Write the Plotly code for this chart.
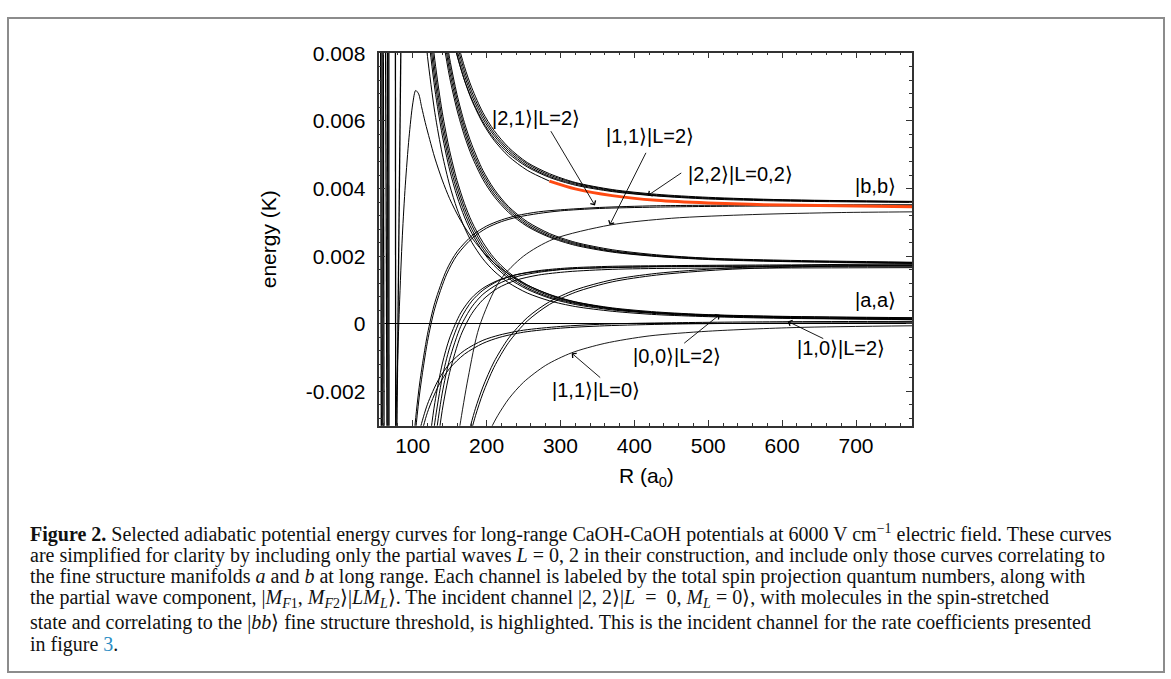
import plotly.graph_objects as go

W, H = 1171, 679

# ---------------- data (energies in mK) ----------------
# Repulsive curves correlating to |b,b>
R_REP_BB = [150, 160, 170, 180, 195, 210, 230, 255, 285, 320, 370, 430, 500, 600, 776]
E_REP_BB_1 = [9.45, 8.41, 7.61, 6.98, 6.25, 5.72, 5.21, 4.77, 4.44, 4.18, 3.97, 3.83, 3.74, 3.67, 3.62]
E_REP_BB_2 = [9.26, 8.26, 7.48, 6.86, 6.16, 5.64, 5.15, 4.73, 4.40, 4.16, 3.95, 3.81, 3.72, 3.66, 3.61]
E_REP_BB_3 = [9.07, 8.10, 7.35, 6.75, 6.07, 5.57, 5.09, 4.68, 4.36, 4.13, 3.93, 3.79, 3.71, 3.65, 3.60]
E_REP_BB_4 = [8.88, 7.94, 7.21, 6.64, 5.98, 5.49, 5.03, 4.64, 4.33, 4.10, 3.91, 3.78, 3.69, 3.63, 3.59]
E_INCIDENT = [8.93, 7.96, 7.21, 6.61, 5.93, 5.43, 4.95, 4.54, 4.22, 3.99, 3.79, 3.65, 3.57, 3.51, 3.46]
HIGHLIGHT_FROM_R = 285

# Repulsive curves correlating to |a,b>
R_REP_AB = [140, 150, 160, 170, 180, 195, 210, 230, 255, 285, 320, 370, 430, 500, 600, 776]
E_REP_AB_1 = [9.25, 7.85, 6.78, 5.95, 5.30, 4.54, 3.99, 3.46, 3.02, 2.67, 2.41, 2.19, 2.04, 1.94, 1.88, 1.82]
E_REP_AB_2 = [9.02, 7.67, 6.63, 5.82, 5.18, 4.45, 3.92, 3.41, 2.97, 2.63, 2.38, 2.16, 2.02, 1.93, 1.86, 1.81]
E_REP_AB_3 = [8.79, 7.48, 6.47, 5.69, 5.07, 4.36, 3.84, 3.35, 2.92, 2.59, 2.35, 2.14, 2.00, 1.91, 1.85, 1.80]
E_REP_AB_4 = [8.56, 7.29, 6.32, 5.56, 4.96, 4.27, 3.77, 3.29, 2.88, 2.56, 2.32, 2.12, 1.99, 1.90, 1.84, 1.79]

# Repulsive curves correlating to |a,a>
R_REP_AA = [115, 120, 130, 140, 150, 160, 170, 180, 195, 210, 230, 255, 285, 320, 370, 430, 500, 600, 776]
E_REP_AA_1 = [11.19, 9.86, 7.79, 6.26, 5.12, 4.24, 3.56, 3.02, 2.41, 1.95, 1.52, 1.15, 0.87, 0.65, 0.47, 0.35, 0.27, 0.22, 0.18]
E_REP_AA_2 = [10.78, 9.51, 7.50, 6.03, 4.93, 4.09, 3.43, 2.91, 2.31, 1.88, 1.46, 1.11, 0.83, 0.62, 0.45, 0.33, 0.26, 0.21, 0.17]
E_REP_AA_3 = [10.38, 9.15, 7.22, 5.81, 4.74, 3.93, 3.30, 2.79, 2.22, 1.80, 1.40, 1.06, 0.79, 0.60, 0.43, 0.32, 0.25, 0.19, 0.15]
E_REP_AA_4 = [9.97, 8.79, 6.94, 5.58, 4.55, 3.77, 3.16, 2.68, 2.13, 1.73, 1.34, 1.02, 0.76, 0.57, 0.41, 0.30, 0.23, 0.18, 0.14]
E_REP_AA_5 = [8.98, 7.91, 6.24, 5.02, 4.10, 3.40, 2.85, 2.41, 1.92, 1.56, 1.21, 0.91, 0.68, 0.51, 0.37, 0.27, 0.21, 0.16, 0.13]

# Attractive curves correlating to |b,b>  (|2,1>|L=2>)
R_ATT_BB = [100, 105, 110, 120, 130, 146, 160, 181, 200, 220, 241, 270, 300, 353, 430, 550, 776]
E_ATT_BB_1 = [-3.73, -2.59, -1.67, -0.31, 0.63, 1.60, 2.13, 2.62, 2.89, 3.07, 3.20, 3.31, 3.37, 3.44, 3.49, 3.51, 3.52]
E_ATT_BB_2 = [-4.12, -2.93, -1.96, -0.53, 0.46, 1.47, 2.03, 2.54, 2.83, 3.02, 3.15, 3.26, 3.34, 3.41, 3.45, 3.48, 3.49]

# |1,1>|L=2>
R_THIN_BB = [160, 164, 175, 190, 218, 250, 290, 367, 450, 560, 680, 776]
E_THIN_BB = [-3.6, -3.0, -1.6, -0.1, 1.28, 2.0, 2.5, 2.92, 3.12, 3.23, 3.29, 3.31]

# Attractive curves correlating to |a,b>
R_ATT_AB = [115, 120, 125, 130, 140, 150, 165, 180, 195, 215, 240, 270, 310, 370, 450, 600, 776]
E_ATT_AB_1 = [-6.34, -4.93, -3.81, -2.91, -1.59, -0.71, 0.15, 0.67, 0.99, 1.26, 1.45, 1.57, 1.65, 1.70, 1.72, 1.74, 1.74]
E_ATT_AB_2 = [-7.43, -5.84, -4.57, -3.55, -2.05, -1.05, -0.08, 0.50, 0.87, 1.17, 1.39, 1.52, 1.62, 1.67, 1.70, 1.71, 1.72]
E_ATT_AB_3 = [-5.30, -4.08, -3.11, -2.33, -1.19, -0.42, 0.32, 0.77, 1.05, 1.28, 1.45, 1.55, 1.62, 1.66, 1.69, 1.70, 1.70]
E_ATT_AB_4 = [-8.54, -6.79, -5.37, -4.23, -2.56, -1.44, -0.35, 0.30, 0.71, 1.05, 1.29, 1.44, 1.54, 1.61, 1.64, 1.65, 1.66]

R_STRONG_AB = [178, 185, 195, 210, 230, 255, 285, 320, 370, 430, 520, 640, 776]
E_STRONG_AB_1 = [-3.27, -2.72, -2.06, -1.29, -0.55, 0.08, 0.57, 0.93, 1.24, 1.44, 1.60, 1.69, 1.74]
E_STRONG_AB_2 = [-3.04, -2.50, -1.87, -1.13, -0.42, 0.18, 0.65, 1.00, 1.30, 1.49, 1.64, 1.74, 1.78]

# Attractive curves correlating to |a,a>
R_ATT_AA = [100, 105, 110, 120, 135, 150, 170, 195, 218, 250, 300, 360, 450, 600, 776]
E_ATT_AA_1 = [-4.17, -3.59, -3.11, -2.38, -1.65, -1.18, -0.79, -0.49, -0.33, -0.19, -0.08, -0.01, 0.03, 0.06, 0.07]
E_ATT_AA_2 = [-4.56, -3.93, -3.42, -2.62, -1.83, -1.32, -0.90, -0.58, -0.40, -0.25, -0.13, -0.06, -0.01, 0.02, 0.03]

# |1,1>|L=0>
R_THIN_AA = [205, 215, 230, 250, 280, 315, 360, 420, 500, 620, 776]
E_THIN_AA = [-3.13, -2.72, -2.22, -1.73, -1.23, -0.86, -0.58, -0.36, -0.22, -0.11, -0.06]

# Short-range barrier curve
R_BARRIER = [77, 79, 82, 86, 90, 95, 100, 104, 108, 112, 117, 123, 130, 140, 150, 165, 185, 210, 250, 300, 380, 480, 620, 776]
E_BARRIER = [-3.1, -1.5, 0.5, 2.6, 4.1, 5.5, 6.5, 6.9, 6.8, 6.42, 5.95, 5.45, 4.9, 4.25, 3.7, 3.05, 2.4, 1.8, 1.2, 0.75, 0.42, 0.26, 0.17, 0.12]

# Inner walls (near vertical)
WALL_R_TOP = [56.6, 58.5, 60.2, 63.3, 66.0, 67.7, 76.6, 84.0]
WALL_R_BOTTOM = [57.5, 58.8, 61.2, 65.2, 66.5, 67.9, 77.0, 78.5]
WALL_E = [8.2, -3.2]

X_TICKS = [100, 200, 300, 400, 500, 600, 700]
Y_TICKS = [-0.002, 0, 0.002, 0.004, 0.006, 0.008]
Y_TICKTEXT = ["-0.002", "0", "0.002", "0.004", "0.006", "0.008"]

LABELS = ["|2,1⟩|L=2⟩", "|1,1⟩|L=2⟩", "|2,2⟩|L=0,2⟩", "|b,b⟩", "|a,a⟩",
          "|1,0⟩|L=2⟩", "|0,0⟩|L=2⟩", "|1,1⟩|L=0⟩"]
LABEL_R = [266.5, 420.8, 544.0, 726.7, 726.7, 679.3, 457.3, 347.7]
LABEL_E = [6.09, 5.54, 4.43, 4.08, 0.70, -0.72, -0.95, -1.97]

ARROW_HEAD_R = [346.7, 366.6, 418.1, 515.5, 315.2, 607.6]
ARROW_HEAD_E = [3.50, 2.92, 3.79, 0.27, -0.87, 0.07]
ARROW_TAIL_R = [285.8, 416.7, 465.5, 465.5, 355.8, 657.7]
ARROW_TAIL_E = [5.74, 5.10, 4.49, -0.61, -1.63, -0.46]

CAPTION = [
    "<b>Figure 2.</b> Selected adiabatic potential energy curves for long-range CaOH-CaOH potentials at 6000 V cm<sup>−1</sup> electric field. These curves",
    "are simplified for clarity by including only the partial waves <i>L</i> = 0, 2 in their construction, and include only those curves correlating to",
    "the fine structure manifolds <i>a</i> and <i>b</i> at long range. Each channel is labeled by the total spin projection quantum numbers, along with",
    "the partial wave component, |<i>M</i><sub><i>F</i>1</sub>, <i>M</i><sub><i>F</i>2</sub>⟩|<i>LM</i><sub><i>L</i></sub>⟩. The incident channel |2, 2⟩|<i>L</i>  =  0, <i>M</i><sub><i>L</i></sub> = 0⟩, with molecules in the spin-stretched",
    "state and correlating to the |<i>bb</i>⟩ fine structure threshold, is highlighted. This is the incident channel for the rate coefficients presented",
    "in figure <span style='color:#2a8cc4'>3</span>.",
]
CAPTION_Y_PX = [531, 553, 575, 597, 622, 644]

MK = 1e-3

fig = go.Figure()

def add_curve(r, e, color="black", width=1.0, shape="spline"):
    fig.add_trace(go.Scatter(x=r, y=[v * MK for v in e], mode="lines",
                             line=dict(color=color, width=width, shape=shape, smoothing=0.8),
                             hoverinfo="skip", showlegend=False))

for rt, rb in zip(WALL_R_TOP, WALL_R_BOTTOM):
    add_curve([rt, rb], WALL_E, width=1.3, shape="linear")

add_curve(R_BARRIER, E_BARRIER)
for e in [E_REP_AA_1, E_REP_AA_2, E_REP_AA_3, E_REP_AA_4, E_REP_AA_5]:
    add_curve(R_REP_AA, e)
for e in [E_REP_AB_1, E_REP_AB_2, E_REP_AB_3, E_REP_AB_4]:
    add_curve(R_REP_AB, e)
for e in [E_REP_BB_1, E_REP_BB_2, E_REP_BB_3, E_REP_BB_4]:
    add_curve(R_REP_BB, e)
for e in [E_ATT_BB_1, E_ATT_BB_2]:
    add_curve(R_ATT_BB, e)
add_curve(R_THIN_BB, E_THIN_BB, width=0.9)
for e in [E_ATT_AB_1, E_ATT_AB_2, E_ATT_AB_3, E_ATT_AB_4]:
    add_curve(R_ATT_AB, e)
for e in [E_STRONG_AB_1, E_STRONG_AB_2]:
    add_curve(R_STRONG_AB, e)
for e in [E_ATT_AA_1, E_ATT_AA_2]:
    add_curve(R_ATT_AA, e)
add_curve(R_THIN_AA, E_THIN_AA, width=0.9)

# incident channel: black part then highlighted part
k = R_REP_BB.index(HIGHLIGHT_FROM_R)
add_curve(R_REP_BB[:k + 1], E_INCIDENT[:k + 1])
add_curve(R_REP_BB[k:], E_INCIDENT[k:], color="#ff4a12", width=3.0)

annotations = []
for t, r, e in zip(LABELS, LABEL_R, LABEL_E):
    annotations.append(dict(x=r, y=e * MK, xref="x", yref="y", text=t, showarrow=False,
                            xanchor="center", yanchor="middle",
                            font=dict(family="Liberation Sans, Arial, sans-serif", size=20, color="black")))
for hr, he, tr, te in zip(ARROW_HEAD_R, ARROW_HEAD_E, ARROW_TAIL_R, ARROW_TAIL_E):
    annotations.append(dict(x=hr, y=he * MK, ax=tr, ay=te * MK, xref="x", yref="y",
                            axref="x", ayref="y", text="", showarrow=True,
                            arrowhead=4, arrowsize=1.3, arrowwidth=0.9, arrowcolor="black",
                            standoff=0, startstandoff=0))

# axis titles
annotations.append(dict(x=646 / W, y=1 - 458 / H, xref="paper", yref="paper", xanchor="center", yanchor="top",
                        text="R (a<sub>0</sub>)", showarrow=False,
                        font=dict(family="Liberation Sans, Arial, sans-serif", size=21, color="black")))
annotations.append(dict(x=268 / W, y=1 - 232 / H, xref="paper", yref="paper", xanchor="center", yanchor="middle",
                        text="energy (K)", textangle=-90, showarrow=False,
                        font=dict(family="Liberation Sans, Arial, sans-serif", size=21, color="black")))

for line, ypx in zip(CAPTION, CAPTION_Y_PX):
    annotations.append(dict(x=29 / W, y=1 - ypx / H, xref="paper", yref="paper", xanchor="left",
                            yanchor="middle", text=line, showarrow=False, align="left", borderpad=0,
                            font=dict(family="Liberation Serif, Times New Roman, serif", size=20, color="#111111")))

axis_common = dict(showgrid=False, showline=True, linecolor="#333333", linewidth=1.5, mirror="ticks",
                   ticks="inside", ticklen=6, tickwidth=1, tickcolor="#333333",
                   tickfont=dict(family="Liberation Sans, Arial, sans-serif", size=21, color="black"))

fig.update_layout(
    width=W, height=H, margin=dict(l=0, r=0, t=0, b=0),
    paper_bgcolor="white", plot_bgcolor="white",
    xaxis=dict(domain=[379.3 / W, 912 / W], range=[54.8, 775.8], tickvals=X_TICKS,
               minor=dict(ticks="inside", ticklen=3, dtick=20, tick0=0, tickcolor="#333333"),
               zeroline=False, ticklabelstandoff=0, **axis_common),
    yaxis=dict(domain=[1 - 421.7 / H, 1 - 42.3 / H], range=[-0.00302, 0.00802], tickvals=Y_TICKS,
               ticktext=Y_TICKTEXT,
               minor=dict(ticks="inside", ticklen=3, dtick=0.0004, tick0=0, tickcolor="#333333"),
               zeroline=True, zerolinecolor="black", zerolinewidth=1, ticklabelstandoff=8, **axis_common),
    annotations=annotations,
    shapes=[dict(type="rect", xref="paper", yref="paper", x0=8 / W, x1=1164 / W, y0=1 - 672 / H, y1=1 - 7 / H,
                 line=dict(color="#8c8c8c", width=2), fillcolor="rgba(0,0,0,0)", layer="below")],
    hovermode=False,
)

fig.write_html("out.html")
